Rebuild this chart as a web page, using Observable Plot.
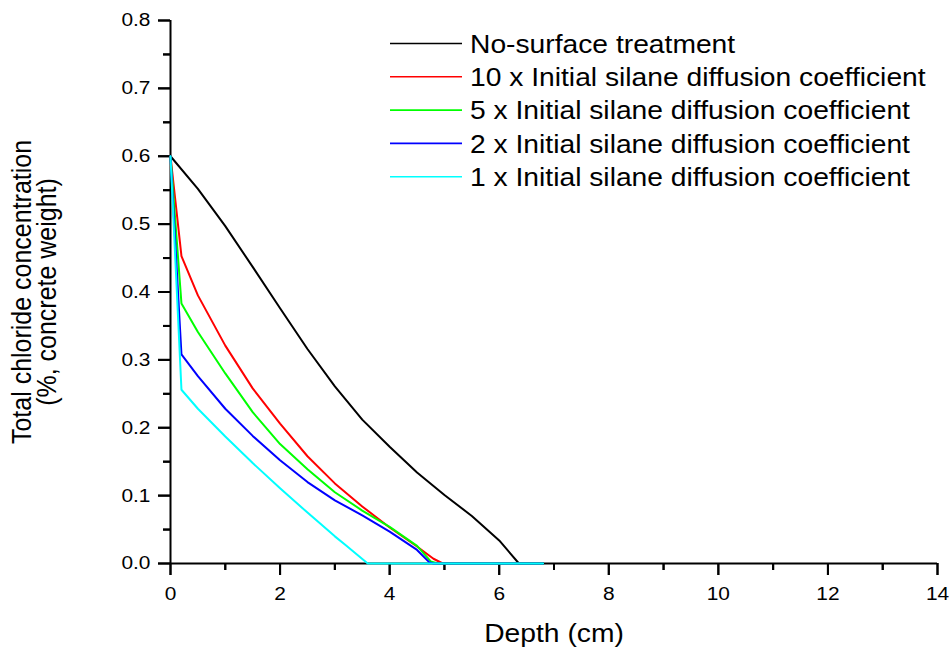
<!DOCTYPE html>
<html>
<head>
<meta charset="utf-8">
<script src="https://cdn.jsdelivr.net/npm/d3@7"></script>
<script src="https://cdn.jsdelivr.net/npm/@observablehq/plot@0.6"></script>
<style>
  body { margin: 0; background: #fff; }
  svg { display: block; }
</style>
</head>
<body>
<div id="chart"></div>
<script>
// ---- data ----
const seriesNames = [
  "No-surface treatment",
  "10 x Initial silane diffusion coefficient",
  "5 x Initial silane diffusion coefficient",
  "2 x Initial silane diffusion coefficient",
  "1 x Initial silane diffusion coefficient"
];
const seriesColors = ["#000000", "#ff0000", "#00ff00", "#0000ff", "#00ffff"];

const depthNoTreatment = [0, 0.5, 1, 1.5, 2, 2.5, 3, 3.5, 4, 4.5, 5, 5.5, 6, 6.36, 6.8];
const concNoTreatment  = [0.6, 0.552, 0.497, 0.437, 0.376, 0.316, 0.261, 0.212, 0.172, 0.134, 0.101, 0.07, 0.034, 0, 0];

const depth10x = [0, 0.2, 0.5, 1, 1.5, 2, 2.5, 3, 3.5, 4, 4.5, 4.8, 4.97, 6.8];
const conc10x  = [0.6, 0.453, 0.395, 0.321, 0.258, 0.206, 0.158, 0.118, 0.084, 0.053, 0.025, 0.007, 0, 0];

const depth5x = [0, 0.2, 0.5, 1, 1.5, 2, 2.5, 3, 3.5, 4, 4.5, 4.75, 4.88, 6.8];
const conc5x  = [0.6, 0.383, 0.341, 0.28, 0.223, 0.176, 0.139, 0.105, 0.078, 0.054, 0.026, 0.003, 0, 0];

const depth2x = [0, 0.2, 0.5, 1, 1.5, 2, 2.5, 3, 3.5, 4, 4.5, 4.72, 4.8, 6.8];
const conc2x  = [0.6, 0.308, 0.276, 0.228, 0.188, 0.152, 0.12, 0.093, 0.071, 0.047, 0.02, 0.002, 0, 0];

const depth1x = [0, 0.2, 0.5, 1, 1.5, 2, 2.5, 3, 3.2, 3.6, 6.8];
const conc1x  = [0.6, 0.256, 0.228, 0.187, 0.148, 0.111, 0.075, 0.04, 0.027, 0, 0];

const xTicks = [0, 2, 4, 6, 8, 10, 12, 14];
const xMinorTicks = [1, 3, 5, 7, 9, 11, 13];
const yTicks = [0, 0.1, 0.2, 0.3, 0.4, 0.5, 0.6, 0.7, 0.8];
const yMinorTicks = [0.05, 0.15, 0.25, 0.35, 0.45, 0.55, 0.65, 0.75];

const xTitle = "Depth (cm)";
const yTitle = "Total chloride concentration\n(%, concrete weight)";

// ---- table built from arrays ----
const seriesDepths = [depthNoTreatment, depth10x, depth5x, depth2x, depth1x];
const seriesConcs = [concNoTreatment, conc10x, conc5x, conc2x, conc1x];
const rows = [];
seriesNames.forEach((name, k) => {
  seriesDepths[k].forEach((d, i) => rows.push({series: name, depth: d, conc: seriesConcs[k][i]}));
});

const font = "'Liberation Sans', Arial, Helvetica, sans-serif";
const stretch = 1.13;
const majorLen = 12, minorLen = 7;

const chart = Plot.plot({
  width: 952,
  height: 653,
  marginLeft: 170,
  marginRight: 15,
  marginTop: 20,
  marginBottom: 90,
  style: {fontFamily: font, background: "#fff", color: "#000", overflow: "visible"},
  x: {domain: [0, 14]},
  y: {domain: [0, 0.8]},
  color: {domain: seriesNames, range: seriesColors},
  marks: [
    // tick marks and labels
    Plot.axisX({ticks: xTicks, tickSize: majorLen, tickPadding: 11, fontSize: 18.5, stroke: "#000", strokeWidth: 2, tickFormat: d3.format("d"), label: null}),
    Plot.axisX({ticks: xMinorTicks, tickSize: minorLen, stroke: "#000", strokeWidth: 2, tickFormat: () => "", label: null}),
    Plot.axisY({ticks: yTicks, tickSize: majorLen, tickPadding: 8, fontSize: 18.5, stroke: "#000", strokeWidth: 2, tickFormat: d3.format(".1f"), label: null}),
    Plot.axisY({ticks: yMinorTicks, tickSize: minorLen, stroke: "#000", strokeWidth: 2, tickFormat: () => "", label: null}),
    // outward ticks as rules as well (same positions)
    Plot.ruleX(xTicks, {x: d => d, y1: 0, y2: 0, insetBottom: -majorLen, stroke: "#000", strokeWidth: 2}),
    Plot.ruleX(xMinorTicks, {x: d => d, y1: 0, y2: 0, insetBottom: -minorLen, stroke: "#000", strokeWidth: 2}),
    Plot.ruleY(yTicks, {y: d => d, x1: 0, x2: 0, insetLeft: -majorLen, stroke: "#000", strokeWidth: 2}),
    Plot.ruleY(yMinorTicks, {y: d => d, x1: 0, x2: 0, insetLeft: -minorLen, stroke: "#000", strokeWidth: 2}),
    // axis lines
    Plot.ruleX([0], {stroke: "#000", strokeWidth: 2}),
    Plot.ruleY([0], {stroke: "#000", strokeWidth: 2}),
    // data
    Plot.line(rows, {x: "depth", y: "conc", z: "series", stroke: "series", strokeWidth: 2}),
    // axis titles
    Plot.text([xTitle], {text: d => d, frameAnchor: "bottom", lineAnchor: "middle", dy: 70, fontSize: 25}),
    Plot.text([yTitle], {text: d => d, frameAnchor: "left", rotate: -90, lineAnchor: "middle", textAnchor: "middle", dx: -135, fontSize: 25, lineHeight: 0.9})
  ]
});

// widen the Arial-like lettering horizontally, as in the reference
d3.select(chart).selectAll("text").each(function () {
  const t = this.getAttribute("transform");
  if (t && /^translate\([^)]*\)/.test(t)) {
    this.setAttribute("transform", t.replace(/^(translate\([^)]*\))/, `$1 scale(${stretch},1)`));
  }
});

// legend (inside the plot, top right)
const legendX1 = 390, legendX2 = 462, legendTextX = 470, legendTop = 43.5, legendStep = 33.3;
const leg = d3.select(chart).append("g")
  .attr("font-family", font)
  .attr("font-size", 25)
  .attr("text-anchor", "start")
  .attr("fill", "#000");
seriesNames.forEach((name, i) => {
  const yy = legendTop + i * legendStep;
  leg.append("line")
    .attr("x1", legendX1).attr("x2", legendX2)
    .attr("y1", yy).attr("y2", yy)
    .attr("stroke", seriesColors[i]).attr("stroke-width", 1.6);
  leg.append("text")
    .attr("transform", `translate(${legendTextX},${yy}) scale(${stretch},1)`)
    .attr("dy", "0.37em")
    .text(name);
});

document.getElementById("chart").appendChild(chart);
</script>
</body>
</html>
